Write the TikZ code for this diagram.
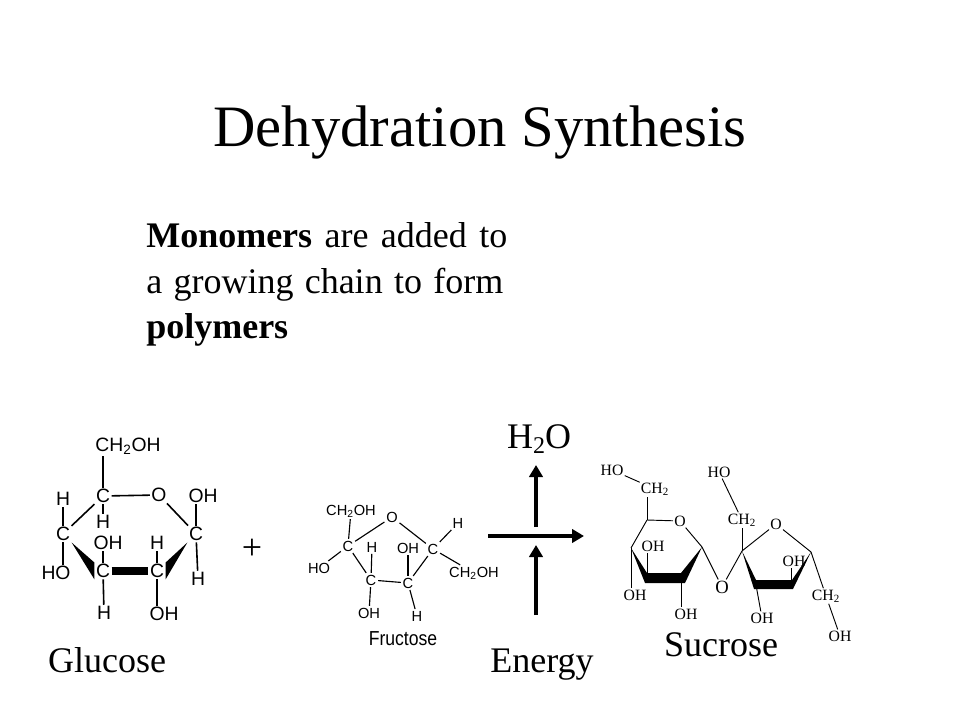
\documentclass[tikz,border=0pt]{standalone}
\usepackage{fontspec}
\setmainfont{Liberation Serif}
\newfontfamily\sansatom{Liberation Sans}
\usetikzlibrary{arrows.meta}
\tikzset{
  bigatom/.style={font=\sansatom\fontsize{14.5}{15}\selectfont,inner sep=1pt},
  smallatom/.style={font=\sansatom\fontsize{11}{12}\selectfont,inner sep=1.2pt},
  serifatom/.style={font=\fontsize{11.8}{12}\selectfont,inner sep=.8pt},
  caption/.style={font=\fontsize{27}{30}\selectfont,inner sep=0,anchor=base},
  bigbond/.style={line width=1.2pt},
  smallbond/.style={line width=.85pt},
  serifbond/.style={line width=.7pt},
  flow/.style={line width=3pt,-{Triangle[length=9pt,width=10pt]}}
}
\begin{document}
\begin{tikzpicture}[x=.75pt,y=-.75pt]
      \useasboundingbox (0,0) rectangle (960,720);
      \node[inner sep=0,anchor=base,font=\fontsize{44}{50}\selectfont] (title) at (480,147) {Dehydration Synthesis};
      \node[caption,anchor=base west] (line1) at (146,248) {\makebox[270.75pt][s]{\textbf{Monomers} are added to}};
      \node[caption,anchor=base west] (line2) at (146,293) {\makebox[267.75pt][s]{a growing chain to form}};
      \node[caption,anchor=base west] (line3) at (146,338) {\textbf{polymers}};

      \node[bigatom] (g5) at (103,496) {C};
      \node[bigatom] (gO) at (159,495) {O};
      \node[bigatom] (g1) at (196,534) {C};
      \node[bigatom] (g2) at (157,571) {C};
      \node[bigatom] (g3) at (103,571) {C};
      \node[bigatom] (g4) at (63,534) {C};
      \node[bigatom] (gch) at (128,446) {CH\textsubscript{2}OH};
      \node[bigatom] (gh4) at (63,499) {H};
      \node[bigatom] (gh5) at (103,522) {H};
      \node[bigatom] (goh1) at (203,496) {OH};
      \node[bigatom] (gh1) at (198,579) {H};
      \node[bigatom] (gho4) at (56,573) {HO};
      \node[bigatom] (goh3) at (108,543) {OH};
      \node[bigatom] (gh2) at (157,543) {H};
      \node[bigatom] (gh3) at (104,613) {H};
      \node[bigatom] (goh2) at (164,614) {OH};
      \foreach \a/\b in {g5/gO,gO/g1,g5/g4,g1/gh1,g3/gh3,g2/gh2,g4/gh4,g5/gh5}
        \draw[bigbond] (\a) -- (\b);
      \draw[bigbond] (g5) -- (g5 |- gch.south);
      \draw[bigbond] (g1) -- (g1 |- goh1.south);
      \draw[bigbond] (g4) -- (g4 |- gho4.north);
      \draw[bigbond] (g3) -- (g3 |- goh3.south);
      \draw[bigbond] (g2) -- (g2 |- goh2.north);
      \draw[line width=6pt] (g3) -- (g2);
      \fill (g4.south east) -- (g3.north west) -- (g3.south west) -- cycle;
      \fill (g1.south west) -- (g2.north east) -- (g2.south east) -- cycle;

      \node[caption,anchor=center] (plus) at (252,549) {+};

      \node[smallatom] (fO) at (392,517) {O};
      \node[smallatom] (f1) at (433,549) {C};
      \node[smallatom] (f2) at (408,583) {C};
      \node[smallatom] (f3) at (371,580) {C};
      \node[smallatom] (f4) at (348,546) {C};
      \node[smallatom] (fch4) at (351,511) {CH\textsubscript{2}OH};
      \node[smallatom] (fch1) at (474,573) {CH\textsubscript{2}OH};
      \node[smallatom] (fho4) at (319,568) {HO};
      \node[smallatom] (fh3) at (372,547) {H};
      \node[smallatom] (foh3) at (369,613) {OH};
      \node[smallatom] (foh2) at (408,548) {OH};
      \node[smallatom] (fh2) at (417,616) {H};
      \node[smallatom] (fh1) at (458,523) {H};
      \node[inner sep=0,yscale=1.15,font=\sansatom\fontsize{13.2}{14}\selectfont] (fname) at (403,639) {Fructose};
      \foreach \a/\b in {f4/fO,fO/f1,f1/f2,f2/f3,f3/f4,f4/fch4,f4/fho4,f1/fh1,f1/fch1,f3/fh3,f3/foh3,f2/foh2,f2/fh2}
        \draw[smallbond] (\a) -- (\b);

      \node[caption] (water) at (539,448) {H\raisebox{-4pt}{\fontsize{18}{20}\selectfont 2}O};
      \node[caption] (energy) at (542,672) {Energy};
      \coordinate (rstart) at (488,536);
      \coordinate (rend) at (584,536);
      \coordinate (ubottom) at (536,527);
      \coordinate (utop) at (536,465);
      \coordinate (lbottom) at (536,615);
      \coordinate (ltop) at (536,545);
      \draw[flow] (rstart) -- (rend);
      \draw[flow] (ubottom) -- (utop);
      \draw[flow] (lbottom) -- (ltop);

      \coordinate (s5) at (647,520);
      \coordinate (s1) at (702,547);
      \coordinate (s4) at (631,548);
      \coordinate (s3) at (647,578);
      \coordinate (s2) at (681,578);
      \coordinate (t2) at (742,551);
      \coordinate (t5) at (811,552);
      \coordinate (t3) at (756,585);
      \coordinate (t4) at (791,585);
      \node[serifatom] (sO) at (680,521) {O};
      \node[serifatom,font=\fontsize{14}{15}\selectfont] (sbr) at (722,587) {O};
      \node[serifatom] (tO) at (776,524) {O};
      \node[serifatom] (sho) at (612,470) {HO};
      \node[serifatom] (sch) at (655,489) {CH\textsubscript{2}};
      \node[serifatom] (tho) at (719,472) {HO};
      \node[serifatom] (tch) at (742,520) {CH\textsubscript{2}};
      \node[serifatom] (soh3) at (653,546) {OH};
      \node[serifatom] (soh4) at (635,595) {OH};
      \node[serifatom] (soh2) at (686,614) {OH};
      \node[serifatom] (toh3) at (762,618) {OH};
      \node[serifatom] (toh4) at (794,561) {OH};
      \node[serifatom] (tche) at (826,596) {CH\textsubscript{2}};
      \node[serifatom] (tohe) at (840,636) {OH};
      \foreach \a/\b in {s5/sO,sO/s1,s1/sbr,sbr/t2,t2/tO,tO/t5,s5/s4,t2/tch,tch/tho,sho/sch,t5/tche,tche/tohe,t3/toh3}
        \draw[serifbond] (\a) -- (\b);
      \draw[serifbond] (s5) -- (s5 |- sch.south);
      \draw[serifbond] (s4) -- (s4 |- soh4.north);
      \draw[serifbond] (s3) -- (s3 |- soh3.south);
      \draw[serifbond] (s2) -- (s2 |- soh2.north);
      \draw[serifbond] (t4) -- (t4 |- toh4.south);
      \fill (s4) -- (647,573) -- (681,573) -- (s1) -- (685,583) -- (645,583) -- cycle;
      \fill (t2) -- (756,580) -- (792,580) -- (t5) -- (793,589) -- (754,589) -- cycle;

      \node[caption] (glucose) at (107,672) {Glucose};
      \node[caption] (sucrose) at (721,656) {Sucrose};
    \end{tikzpicture}
\end{document}
